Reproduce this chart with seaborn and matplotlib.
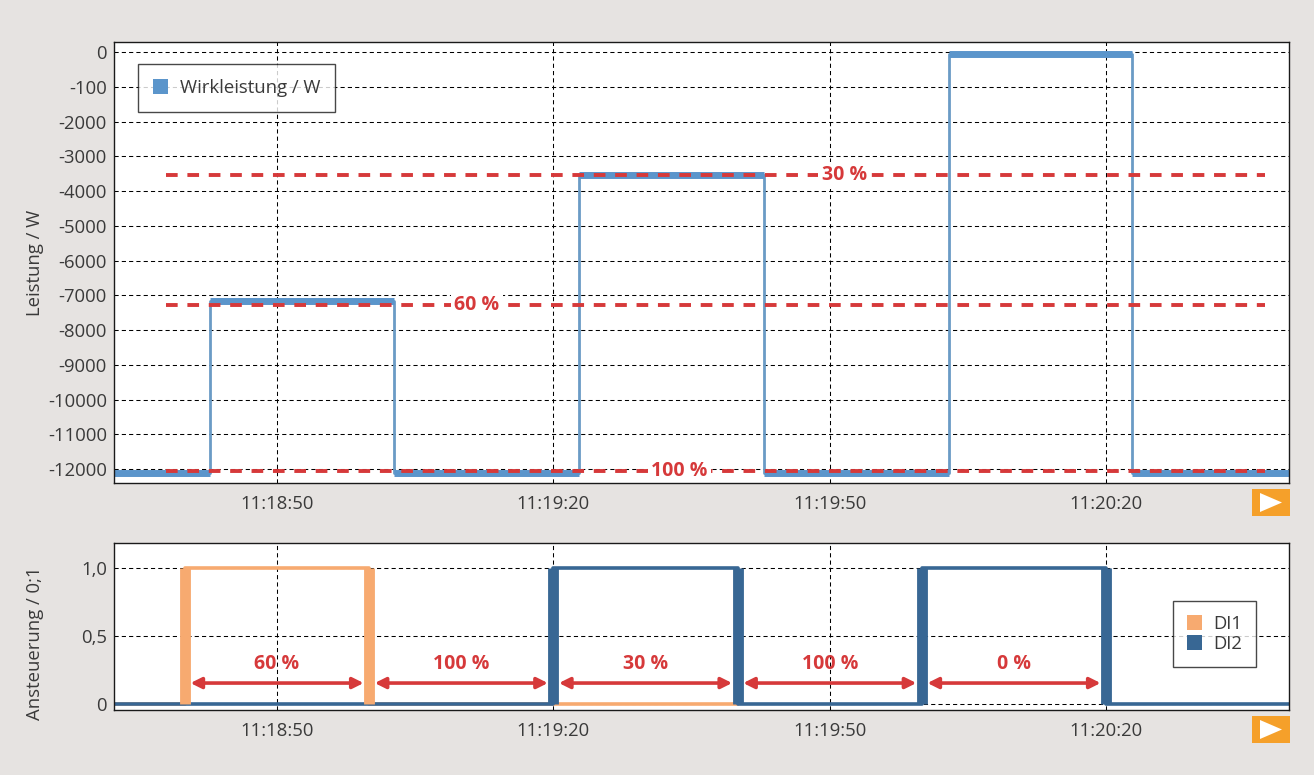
import numpy as np
import pandas as pd
import matplotlib.pyplot as plt
import seaborn as sns
from matplotlib.patches import Rectangle, Polygon

# ── data (seconds after 11:18:00) ─────────────────────────────────────
power_t = [32.3, 42.7, 62.7, 82.75, 102.9, 122.9, 142.8, 159.85]
power_w = [-12100, -7150, -12100, -3550, -12100, -50, -12100, -12100]

threshold_w = [-3540, -7280, -12060]
threshold_lbl = ["30 %", "60 %", "100 %"]
threshold_lbl_t = [111.6, 71.7, 93.7]
threshold_span = (37.9, 157.2)

di1_t = [32.3, 40.0, 60.0, 100.0]
di1_v = [0, 1, 0, 0]
di2_t = [32.3, 80.0, 100.0, 120.0, 140.0, 159.85]
di2_v = [0, 1, 0, 1, 0, 0]

duty_edges = [40.0, 60.0, 80.0, 100.0, 120.0, 140.0]
duty_lbl = ["60 %", "100 %", "30 %", "100 %", "0 %"]

xticks = [50, 80, 110, 140]
xtick_lbl = ["11:18:50", "11:19:20", "11:19:50", "11:20:20"]
yticks_top = [0, -1000, -2000, -3000, -4000, -5000, -6000, -7000, -8000,
              -9000, -10000, -11000, -12000]
ytick_lbl_top = ["0", "-100", "-2000", "-3000", "-4000", "-5000", "-6000",
                 "-7000", "-8000", "-9000", "-10000", "-11000", "-12000"]
yticks_bot = [0, 0.5, 1.0]
ytick_lbl_bot = ["0", "0,5", "1,0"]

# ── style ─────────────────────────────────────────────────────────────
BG = "#e6e3e1"
BLUE = "#5b95cb"
BLUE_THIN = "#6a9bc5"
ORANGE = "#f7aa70"
DARK = "#386794"
RED = "#d6393a"
TXT = "#3a3a3a"

sns.set_style("white")
plt.rcParams["font.family"] = ["Open Sans", "DejaVu Sans"]
plt.rcParams["text.color"] = TXT
plt.rcParams["xtick.color"] = TXT
plt.rcParams["ytick.color"] = TXT

fig = plt.figure(figsize=(13.14, 7.75), dpi=100, facecolor=BG)
ax1 = fig.add_axes([114 / 1314, 1 - 483 / 775, 1175 / 1314, 441 / 775])
ax2 = fig.add_axes([114 / 1314, 1 - 710 / 775, 1175 / 1314, 167 / 775])

grid_kw = dict(color="black", linestyle=(0, (4, 3)), linewidth=0.75)

for ax in (ax1, ax2):
    ax.set_facecolor("white")
    ax.grid(True, **grid_kw)
    ax.set_axisbelow(True)
    for s in ax.spines.values():
        s.set_color("#1a1a1a")
        s.set_linewidth(1.0)
        s.set_zorder(6)
    ax.tick_params(axis="both", length=0, labelsize=13.3)
    ax.tick_params(axis="x", pad=9)
    ax.tick_params(axis="y", pad=5)
    ax.set_xlim(32.3, 159.85)
    ax.set_xticks(xticks)
    ax.set_xticklabels(xtick_lbl)

# ── top panel: active power ───────────────────────────────────────────
power = pd.DataFrame({"t": power_t, "w": power_w})
sns.lineplot(data=power, x="t", y="w", drawstyle="steps-post", ax=ax1,
             color=BLUE_THIN, lw=2.0, estimator=None, sort=False, zorder=3)
ax1.hlines(power_w[:-1], power_t[:-1], power_t[1:], color=BLUE, lw=5.0,
           zorder=3)

for w, lbl, lt in zip(threshold_w, threshold_lbl, threshold_lbl_t):
    ax1.hlines(w, *threshold_span, color=RED, lw=2.8,
               linestyles=[(0, (3.0, 2.5))], zorder=4)
    ax1.text(lt, w, lbl, color=RED, fontsize=14, fontweight="bold",
             ha="center", va="center", zorder=5, clip_on=True,
             bbox=dict(facecolor="white", edgecolor="none", pad=2.5))

ax1.set_ylim(-12400, 290)
ax1.set_yticks(yticks_top)
ax1.set_yticklabels(ytick_lbl_top)
ax1.set_xlabel("")
ax1.set_ylabel("Leistung / W", fontsize=13.3, color=TXT)
ax1.yaxis.set_label_coords(-0.060, 0.5)

h1 = [Rectangle((0, 0), 1, 1, facecolor=BLUE, edgecolor="none")]
leg1 = ax1.legend(h1, ["Wirkleistung / W"], loc="upper left",
                  bbox_to_anchor=(0.0204, 0.95), borderaxespad=0,
                  fontsize=13.3, frameon=True, fancybox=False,
                  handlelength=0.85, handleheight=0.85, handletextpad=0.6,
                  borderpad=0.8)
leg1.get_frame().set_edgecolor("#1a1a1a")
leg1.get_frame().set_linewidth(1.0)

# ── bottom panel: digital inputs ──────────────────────────────────────
di = pd.concat([
    pd.DataFrame({"t": di1_t, "v": di1_v, "ch": "DI1"}),
    pd.DataFrame({"t": di2_t, "v": di2_v, "ch": "DI2"}),
])
sns.lineplot(data=di, x="t", y="v", hue="ch", palette={"DI1": ORANGE, "DI2": DARK},
             drawstyle="steps-post", ax=ax2, lw=2.6, estimator=None,
             sort=False, legend=False, zorder=3)

for t, v, c in ((di1_t, di1_v, ORANGE), (di2_t, di2_v, DARK)):
    edges = [t[i] for i in range(1, len(v)) if v[i] != v[i - 1]]
    ax2.vlines(edges, 0, 1, color=c, lw=7.8, zorder=3)

arrow_y, text_y = 0.153, 0.293
for a, b, lbl in zip(duty_edges[:-1], duty_edges[1:], duty_lbl):
    ax2.annotate("", xy=(a + 0.6, arrow_y), xytext=(b - 0.6, arrow_y),
                 arrowprops=dict(arrowstyle="<|-|>", color=RED, lw=2.6,
                                 mutation_scale=16, shrinkA=0, shrinkB=0),
                 zorder=5)
    ax2.text((a + b) / 2, text_y, lbl, color=RED, fontsize=14,
             fontweight="bold", ha="center", va="center", zorder=5)

ax2.set_ylim(-0.046, 1.187)
ax2.set_yticks(yticks_bot)
ax2.set_yticklabels(ytick_lbl_bot)
ax2.set_xlabel("")
ax2.set_ylabel("Ansteuerung / 0;1", fontsize=13.3, color=TXT)
ax2.yaxis.set_label_coords(-0.060, 0.40)

h2 = [Rectangle((0, 0), 1, 1, facecolor=ORANGE, edgecolor="none"),
      Rectangle((0, 0), 1, 1, facecolor=DARK, edgecolor="none")]
leg2 = ax2.legend(h2, ["DI1", "DI2"], loc="upper left",
                  bbox_to_anchor=(0.901, 0.653), borderaxespad=0,
                  fontsize=13.3, frameon=True, fancybox=False,
                  handlelength=0.85, handleheight=0.85, handletextpad=0.6,
                  labelspacing=0.1, borderpad=0.75)
leg2.get_frame().set_edgecolor("#1a1a1a")
leg2.get_frame().set_linewidth(1.0)

# ── orange play buttons ───────────────────────────────────────────────
for y0 in (489, 716):
    x0, w, h = 1252, 38, 27
    fig.patches.append(Rectangle((x0 / 1314, 1 - (y0 + h) / 775), w / 1314, h / 775,
                                 transform=fig.transFigure, facecolor="#f5a02a",
                                 edgecolor="none"))
    tri = [((x0 + 8) / 1314, 1 - (y0 + 4) / 775),
           ((x0 + 8) / 1314, 1 - (y0 + 23) / 775),
           ((x0 + 30) / 1314, 1 - (y0 + 13.5) / 775)]
    fig.patches.append(Polygon(tri, closed=True, transform=fig.transFigure,
                               facecolor="white", edgecolor="none"))

fig.savefig("out.png", dpi=100, facecolor=BG)
